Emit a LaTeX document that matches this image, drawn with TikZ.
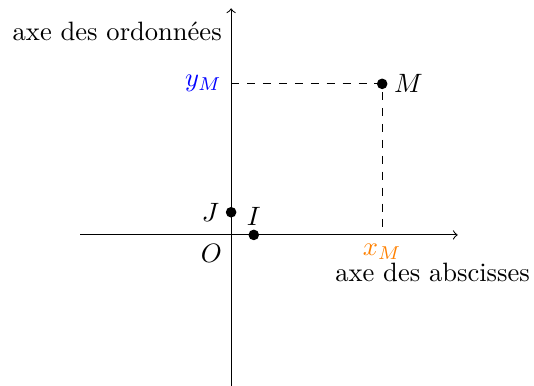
\documentclass[tikz,border=0pt]{standalone}
\begin{document}
\begin{tikzpicture}[dot/.style={circle,fill=black,inner sep=0pt,minimum size=4pt}]
\useasboundingbox (-3.06,-1.99) rectangle (4.01,3.11);
\coordinate (xa) at (-2,0);
\coordinate (xb) at (3,0);
\coordinate (ya) at (0,-2);
\coordinate (yb) at (0,3);
\coordinate (O) at (0,0);
\draw[->] (xa) -- (xb);
\draw[->] (ya) -- (yb);
\node[dot] (M) at (2,2) {};
\node[dot] (J) at (0,0.3) {};
\node[dot] (I) at (0.3,0) {};
\coordinate (Mx) at (2,0);
\coordinate (My) at (0,2);
\draw[dashed] (My) -- (M.center) -- (Mx);
\node[right,xshift=1pt] at (M.center) {$M$};
\node[left,xshift=-1pt] at (J.center) {$J$};
\node[above] at (I.center) {$I$};
\node[below left] at (O) {$O$};
\node[left,blue] at (My) {$y_M$};
\node[below,orange] at (Mx) {$x_M$};
\node[anchor=base east] (ord) at (0,2.57) {axe des ordonnées};
\node[anchor=base east] (abs) at (4.08,-0.62) {axe des abscisses};
\end{tikzpicture}
\end{document}
